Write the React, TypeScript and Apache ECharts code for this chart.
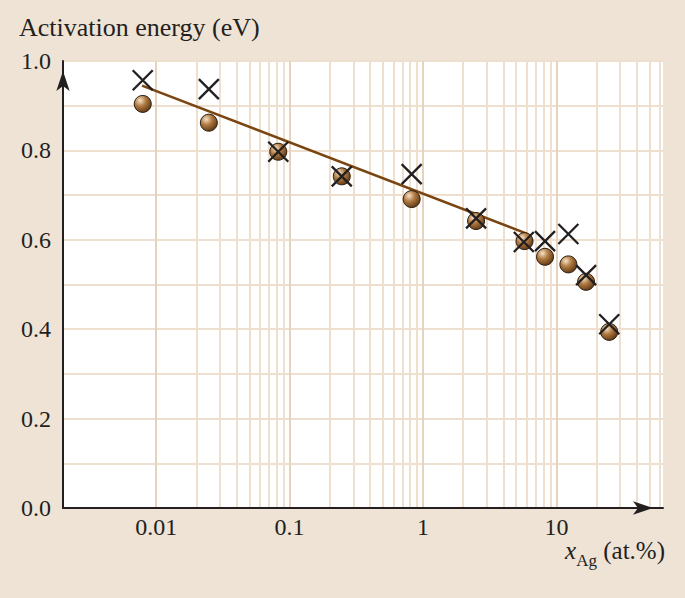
import React, { useEffect, useRef } from "react";
import * as echarts from "echarts";

// x: Ag concentration (at.%), y: activation energy (eV)
const xValues = [0.00792, 0.0248, 0.0822, 0.246, 0.822, 2.5, 5.77, 8.22, 12.3, 16.7, 24.9];
const circleY = [0.904, 0.862, 0.797, 0.742, 0.691, 0.642, 0.597, 0.562, 0.545, 0.506, 0.394];
const crossX = [0.00792, 0.0248, 0.0822, 0.246, 0.822, 2.5, 5.7, 8.22, 12.3, 16.7, 24.9];
const crossY = [0.957, 0.937, 0.797, 0.742, 0.747, 0.648, 0.595, 0.597, 0.613, 0.521, 0.411];
const fitX = [0.00783, 6.0];
const fitY = [0.945, 0.614];

const xTickLabels = ["0.01", "0.1", "1", "10"];
const decades = [0.001, 0.01, 0.1, 1, 10];
const multipliers = [1, 2, 3, 4, 5, 6, 7, 8, 9];
const X_MIN = 0.002;
const X_MAX = 63;

const SERIF = "'Liberation Serif', 'DejaVu Serif', serif";

export default function App() {
  const ref = useRef<HTMLDivElement>(null);
  useEffect(() => {
    if (!ref.current) return;
    const chart = echarts.init(ref.current, undefined, { renderer: "svg" });

    const minorLines: any[] = [];
    const majorLines: any[] = [];
    decades.forEach((d) => {
      multipliers.forEach((m) => {
        const v = +(d * m).toPrecision(6);
        if (v > X_MIN * 1.001 && v < X_MAX) {
          if (m === 1) majorLines.push({ xAxis: v });
          else minorLines.push({ xAxis: v });
        }
      });
    });

    const circleData = xValues.map((x, i) => [x, circleY[i]]);
    const crossData = crossX.map((x, i) => [x, crossY[i]]);
    const fitData = fitX.map((x, i) => [x, fitY[i]]);

    chart.setOption({
      animation: false,
      backgroundColor: "#efe3d6",
      grid: { left: 63, right: 22, top: 61, bottom: 90, show: true, backgroundColor: "#ffffff", borderWidth: 0 },
      xAxis: {
        type: "log",
        logBase: 10,
        min: X_MIN,
        max: X_MAX,
        z: 10,
        axisLine: {
          show: true,
          lineStyle: { color: "#231f20", width: 2 },
          symbol: ["none", "arrow"],
          symbolSize: [10, 20],
          symbolOffset: [0, -10],
        },
        axisTick: { show: false },
        splitLine: { show: false },
        minorTick: { show: false },
        axisLabel: {
          showMinLabel: false,
          showMaxLabel: false,
          margin: 7,
          color: "#231f20",
          fontFamily: SERIF,
          fontSize: 24,
          formatter: (v: number) => {
            const l = Math.log10(v);
            const r = Math.round(l);
            if (Math.abs(l - r) < 1e-6 && r >= -2 && r <= 1) return xTickLabels[r + 2];
            return "";
          },
        },
      },
      yAxis: {
        type: "value",
        min: 0,
        max: 1,
        interval: 0.1,
        axisLine: {
          show: true,
          lineStyle: { color: "#231f20", width: 2 },
          symbol: ["none", "arrow"],
          symbolSize: [10, 20],
          symbolOffset: [0, -10],
        },
        axisTick: { show: false },
        splitLine: { show: true, lineStyle: { color: "#efdfce", width: 2 } },
        axisLabel: {
          margin: 12,
          color: "#231f20",
          fontFamily: SERIF,
          fontSize: 24,
          formatter: (v: number) => (Math.round(v * 10) % 2 === 0 ? v.toFixed(1) : ""),
        },
      },
      graphic: [
        {
          type: "text",
          left: 19,
          top: 14,
          style: { text: "Activation energy (eV)", fontFamily: SERIF, fontSize: 26, fill: "#231f20" },
        },
        {
          type: "text",
          right: 20,
          top: 538,
          style: {
            text: "{i|x}{s|Ag}{n| (at.%)}",
            fontFamily: SERIF,
            fill: "#231f20",
            rich: {
              i: { fontFamily: SERIF, fontSize: 25, fontStyle: "italic", lineHeight: 32, verticalAlign: "bottom", fill: "#231f20" },
              s: { fontFamily: SERIF, fontSize: 17, lineHeight: 24, verticalAlign: "bottom", padding: [0, 0, -6, 0], fill: "#231f20" },
              n: { fontFamily: SERIF, fontSize: 25, lineHeight: 32, verticalAlign: "bottom", fill: "#231f20" },
            },
          },
        },
      ],
      series: [
        {
          type: "line",
          data: [],
          z: 1,
          silent: true,
          markLine: {
            silent: true,
            z: 1,
            symbol: "none",
            label: { show: false },
            lineStyle: { color: "#efdfce", width: 2, type: "solid" },
            data: minorLines,
          },
        },
        {
          type: "line",
          data: [],
          z: 1,
          silent: true,
          markLine: {
            silent: true,
            z: 1,
            symbol: "none",
            label: { show: false },
            lineStyle: { color: "#e6d2bd", width: 2, type: "solid" },
            data: majorLines,
          },
        },
        {
          type: "line",
          data: fitData,
          z: 3,
          symbol: "none",
          lineStyle: { color: "#7a4510", width: 2.5 },
        },
        {
          type: "scatter",
          data: circleData,
          z: 4,
          symbol: "circle",
          symbolSize: 17,
          itemStyle: {
            color: {
              type: "radial",
              x: 0.35,
              y: 0.3,
              r: 0.75,
              colorStops: [
                { offset: 0, color: "#f6e2c8" },
                { offset: 0.45, color: "#b07a42" },
                { offset: 1, color: "#5e3612" },
              ],
            },
            borderColor: "#2b1d10",
            borderWidth: 1,
            opacity: 1,
          },
        },
        {
          type: "scatter",
          data: crossData,
          z: 5,
          symbol: "path://M0,0L10,10M10,0L0,10",
          symbolSize: 20,
          itemStyle: { color: "none", borderColor: "#231f20", borderWidth: 2.3, opacity: 1 },
        },
      ],
    });
    return () => chart.dispose();
  }, []);
  return <div ref={ref} style={{ position: "fixed", left: 0, top: 0, width: 685, height: 598 }} />;
}
